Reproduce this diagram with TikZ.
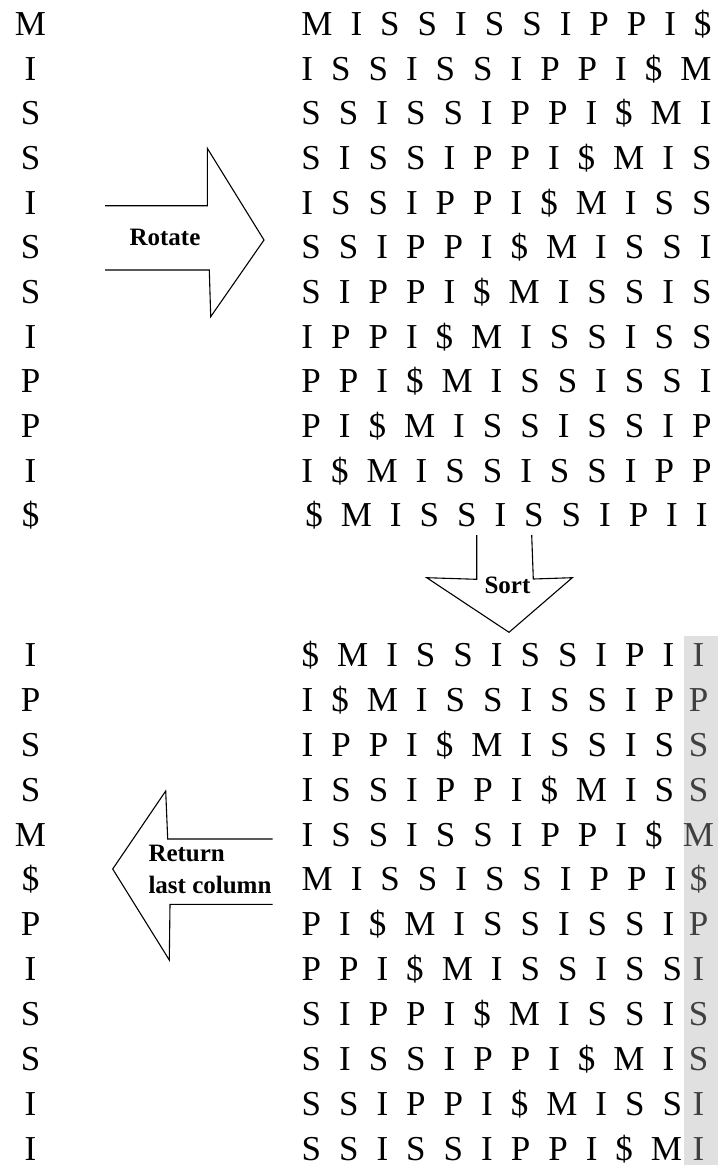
\documentclass[tikz,border=0pt]{standalone}
\usepackage{fontspec}
\setmainfont{Liberation Serif}
\definecolor{colbg}{RGB}{224,224,224}
\definecolor{coltext}{RGB}{64,64,64}
\begin{document}
\begin{tikzpicture}[x=1pt,y=-1pt,
  letter/.style={inner sep=0pt, font=\fontsize{35}{35}\selectfont},
  rowtext/.style={inner sep=0pt, font={\fontsize{35}{35}\selectfont\spaceskip=18pt\relax}},
  lastcol/.style={letter, text=coltext},
  label/.style={inner sep=0pt, font=\fontsize{25}{25}\selectfont\bfseries},
  arrowline/.style={draw=black, line width=1.1pt, line join=miter}
]
\useasboundingbox (0,0) rectangle (718,1165);

% highlighted last column of the sorted table
\fill[colbg] (684,636) rectangle (718,1165);

% input string, one letter per line
\foreach \i/\c in {1/M,2/I,3/S,4/S,5/I,6/S,7/S,8/I,9/P,10/P,11/I,12/\$}
  \node[letter, anchor=base] (in\i) at (30.5,{35.7+44.64*(\i-1)}) {\c};

% all rotations
\foreach \i/\t in {
  1/{M I S S I S S I P P I \$},
  2/{I S S I S S I P P I \$ M},
  3/{S S I S S I P P I \$ M I},
  4/{S I S S I P P I \$ M I S},
  5/{I S S I P P I \$ M I S S},
  6/{S S I P P I \$ M I S S I},
  7/{S I P P I \$ M I S S I S},
  8/{I P P I \$ M I S S I S S},
  9/{P P I \$ M I S S I S S I},
  10/{P I \$ M I S S I S S I P},
  11/{I \$ M I S S I S S I P P},
  12/{\$ M I S S I S S I P I I}}
  \node[rowtext, anchor=base] (rot\i) at (506.5,{35.7+44.64*(\i-1)}) {\t};

% sorted rotations with their last letter
\foreach \i/\t/\c in {
  1/{\$ M I S S I S S I P I}/I,
  2/{I \$ M I S S I S S I P}/P,
  3/{I P P I \$ M I S S I S}/S,
  4/{I S S I P P I \$ M I S}/S,
  5/{I S S I S S I P P I \$}/M,
  6/{M I S S I S S I P P I}/\$,
  7/{P I \$ M I S S I S S I}/P,
  8/{P P I \$ M I S S I S S}/I,
  9/{S I P P I \$ M I S S I}/S,
  10/{S I S S I P P I \$ M I}/S,
  11/{S S I P P I \$ M I S S}/I,
  12/{S S I S S I P P I \$ M}/I}
{
  \node[rowtext, anchor=base west] (srt\i) at (301.5,{666.7+44.85*(\i-1)}) {\t};
  \node[lastcol, anchor=base] (last\i) at (698.5,{666.7+44.85*(\i-1)}) {\c};
  \node[letter, anchor=base] (out\i) at (30.5,{666.7+44.85*(\i-1)}) {\c};
}

% Rotate arrow
\draw[arrowline] (105,205.7) -- (207.3,205.7) -- (207.3,148.3) -- (264,240)
  -- (210.7,316.7) -- (209.3,270) -- (105,270);
\node[label, anchor=base] (rotlbl) at (165,245) {Rotate};

% Sort arrow
\draw[arrowline] (476.7,535) -- (476.7,579.3) -- (426.7,577.7) -- (509,632.3)
  -- (572.3,577.7) -- (533.3,579) -- (531.7,535);
\node[label, anchor=base] (sortlbl) at (507.5,593.3) {Sort};

% Return arrow
\draw[arrowline] (272.7,839) -- (167.7,839) -- (165.7,791) -- (112.7,869)
  -- (169.3,960) -- (170,904.3) -- (272.7,904.3);
\node[label, anchor=base west] (retlbl1) at (148.3,861) {Return};
\node[label, anchor=base west] (retlbl2) at (148.3,893.3) {last column};
\end{tikzpicture}
\end{document}
